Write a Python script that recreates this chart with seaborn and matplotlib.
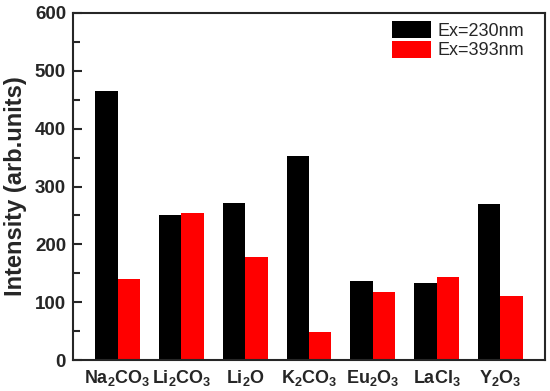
import pandas as pd
import seaborn as sns
import matplotlib.pyplot as plt
from matplotlib.ticker import MultipleLocator

# dados
compostos = [r"Na$_2$CO$_3$", r"Li$_2$CO$_3$", r"Li$_2$O", r"K$_2$CO$_3$",
             r"Eu$_2$O$_3$", r"LaCl$_3$", r"Y$_2$O$_3$"]
ex_230 = [465, 251, 271, 353, 136, 134, 270]
ex_393 = [140, 254, 179, 48, 117, 143, 111]
series = ["Ex=230nm", "Ex=393nm"]

df = pd.DataFrame({
    "composto": compostos * 2,
    "intensidade": ex_230 + ex_393,
    "serie": [series[0]] * len(compostos) + [series[1]] * len(compostos),
})

sns.set_style("ticks")
plt.rcParams["font.family"] = ["Liberation Sans", "DejaVu Sans"]
plt.rcParams["mathtext.fontset"] = "custom"
plt.rcParams["mathtext.rm"] = "Liberation Sans:bold"
plt.rcParams["mathtext.default"] = "rm"

fig, ax = plt.subplots(figsize=(5.5, 3.91), dpi=100)
sns.barplot(data=df, x="composto", y="intensidade", hue="serie",
            palette=["black", "red"], width=0.70, gap=0, saturation=1,
            linewidth=0, ax=ax)

ax.set_ylim(0, 600)
ax.set_xlim(-0.7, 6.7)
ax.yaxis.set_major_locator(MultipleLocator(100))
ax.yaxis.set_minor_locator(MultipleLocator(50))
ax.tick_params(axis="y", which="major", direction="in", length=6.5, width=1.5,
               labelsize=13.5, pad=5)
ax.tick_params(axis="y", which="minor", direction="in", length=5, width=1.5)
ax.tick_params(axis="x", length=0, labelsize=13, pad=6)
for lab in ax.get_xticklabels() + ax.get_yticklabels():
    lab.set_fontweight("bold")

ax.set_xlabel("")
ax.set_ylabel("Intensity (arb.units)", fontsize=17, fontweight="bold",
              labelpad=6)
for s in ax.spines.values():
    s.set_linewidth(1.5)
    s.set_visible(True)

ax.legend(frameon=False, loc="upper right", bbox_to_anchor=(0.955, 0.977),
          fontsize=13, handlelength=2.2, handleheight=1.1, handletextpad=0.33,
          labelspacing=0.05, borderaxespad=0, borderpad=0)

plt.subplots_adjust(left=0.1327, right=0.991, top=0.967, bottom=0.079)
plt.savefig("out.png", dpi=100)
